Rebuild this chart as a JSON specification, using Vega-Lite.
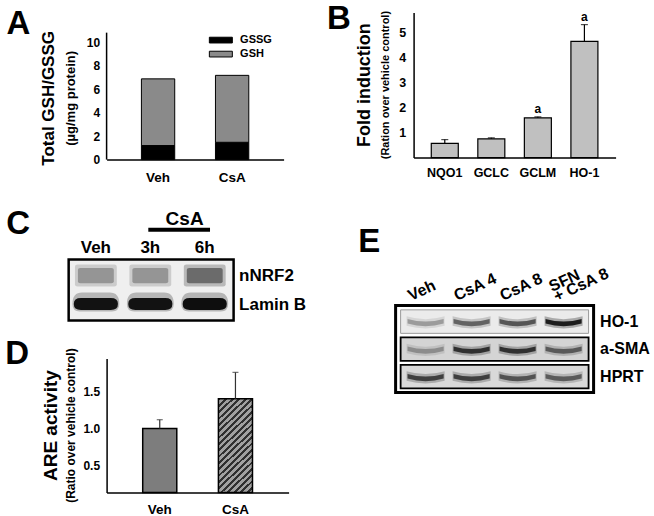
{
  "$schema": "https://vega.github.io/schema/vega-lite/v6.json",
  "background": "white",
  "padding": {"left": 4.6, "top": 1.6, "right": 2, "bottom": 2},
  "spacing": 20,
  "hconcat": [
    {
      "spacing": 15,
      "vconcat": [
        {
          "spacing": 22,
          "vconcat": [
            {
              "title": {"text": "A", "anchor": "start", "frame": "bounds", "fontSize": 33, "dx": -33.7, "dy": 28, "offset": 0},
              "vconcat": [
                {
                  "title": {"text": "Total GSH/GSSG", "subtitle": "(µg/mg protein)", "orient": "left", "anchor": "middle", "frame": "bounds", "fontSize": 17, "subtitleFontSize": 13, "subtitlePadding": 7, "offset": 7},
                  "width": 177,
                  "height": 147,
                  "resolve": {"scale": {"x": "independent"}},
                  "layer": [
                    {
                      "data": {"values": [
                        {"group": "Veh", "component": "GSSG", "value": 1.2},
                        {"group": "Veh", "component": "GSH", "value": 5.7},
                        {"group": "CsA", "component": "GSSG", "value": 1.48},
                        {"group": "CsA", "component": "GSH", "value": 5.72}
                      ]},
                      "mark": {"type": "bar", "stroke": "#000", "strokeWidth": 1},
                      "encoding": {
                        "x": {"field": "group", "type": "nominal", "sort": ["Veh", "CsA"], "scale": {"paddingInner": 0.55, "paddingOuter": 0.47}, "axis": {"title": null, "labelAngle": 0, "labelFontSize": 13.5, "labelPadding": 11}},
                        "y": {"field": "value", "type": "quantitative", "stack": "zero", "scale": {"domain": [0, 12.564], "nice": false}, "axis": {"title": null, "values": [0, 2, 4, 6, 8, 10], "tickCount": 12, "format": "d", "labelFontSize": 12, "labelPadding": 7, "domain": false, "labelOverlap": false, "labelFlush": false}},
                        "fill": {"field": "component", "type": "nominal", "scale": {"domain": ["GSSG", "GSH"], "range": ["#000000", "#8a8a8a"]}, "legend": {"orient": "none", "legendX": 107.75, "legendY": 21, "title": null, "symbolType": "M-2,-0.5H2V0.5H-2Z", "symbolSize": 132, "symbolStrokeColor": "#000", "symbolStrokeWidth": 1, "symbolOpacity": 1, "labelFontSize": 11, "labelFontWeight": "bold", "labelOffset": 12.75, "rowPadding": 2, "padding": 0}},
                        "order": {"field": "component", "sort": "descending"}
                      }
                    },
                    {
                      "data": {"values": [{"line": "y-axis"}]},
                      "mark": {"type": "rule", "stroke": "#000", "strokeWidth": 1.5},
                      "encoding": {
                        "x": {"datum": 0, "type": "quantitative", "scale": {"domain": [0, 1]}, "axis": null},
                        "y": {"datum": 0},
                        "y2": {"datum": 10.85}
                      }
                    }
                  ]
                }
              ]
            },
            {
              "title": {"text": "C", "anchor": "start", "frame": "bounds", "fontSize": 33, "dx": -61.25, "dy": 31, "offset": 0},
              "width": 127,
              "height": 61,
              "resolve": {"scale": {"opacity": "independent"}},
              "layer": [
                {
                  "data": {"values": [{"blot": "C"}]},
                  "mark": {"type": "rect", "fill": "#efefef", "stroke": "#000", "strokeWidth": 2.5},
                  "encoding": {
                    "x": {"datum": 0.5, "type": "quantitative", "scale": {"domain": [1.197, 3.53], "nice": false, "zero": false}, "axis": null},
                    "x2": {"datum": 3.53}
                  }
                },
                {
                  "data": {"values": [
                    {"lane": 1, "rowIdx": 2, "row": "nNRF2", "intensity": 0.36},
                    {"lane": 2, "rowIdx": 2, "row": "nNRF2", "intensity": 0.36},
                    {"lane": 3, "rowIdx": 2, "row": "nNRF2", "intensity": 0.56}
                  ]},
                  "mark": {"type": "point", "shape": "M-0.91,-0.38 Q-0.91,-0.48 -0.8,-0.48 L0.8,-0.48 Q0.91,-0.48 0.91,-0.38 L0.91,0.38 Q0.91,0.48 0.8,0.48 L-0.8,0.48 Q-0.91,0.48 -0.91,0.38 Z", "size": 2116, "filled": true, "color": "#000", "strokeWidth": 0},
                  "encoding": {
                    "x": {"field": "lane", "type": "quantitative"},
                    "y": {"field": "rowIdx", "type": "quantitative", "scale": {"domain": [0.42, 2.56], "nice": false, "zero": false}, "axis": {"orient": "right", "title": null, "values": [1, 2], "tickCount": 12, "labelExpr": "datum.value == 2 ? 'nNRF2' : 'Lamin B'", "domain": false, "labelFontSize": 17, "labelPadding": 5, "labelBaseline": "middle", "labelAlign": "left", "labelFlush": false, "labelOverlap": false, "labelBound": false}},
                    "opacity": {"field": "intensity", "type": "quantitative", "scale": {"domain": [0, 1], "range": [0, 0.4]}, "legend": null}
                  }
                },
                {
                  "data": {"values": [
                    {"lane": 1, "rowIdx": 2, "row": "nNRF2", "intensity": 0.36},
                    {"lane": 2, "rowIdx": 2, "row": "nNRF2", "intensity": 0.36},
                    {"lane": 3, "rowIdx": 2, "row": "nNRF2", "intensity": 0.56}
                  ]},
                  "mark": {"type": "point", "shape": "M-0.78,-0.25 Q-0.78,-0.33 -0.68,-0.33 L0.68,-0.33 Q0.78,-0.33 0.78,-0.25 L0.78,0.25 Q0.78,0.33 0.68,0.33 L-0.68,0.33 Q-0.78,0.33 -0.78,0.25 Z", "size": 2116, "filled": true, "color": "#000", "strokeWidth": 0},
                  "encoding": {
                    "x": {"field": "lane", "type": "quantitative"},
                    "y": {"field": "rowIdx", "type": "quantitative"},
                    "opacity": {"field": "intensity", "type": "quantitative", "scale": {"domain": [0, 1], "range": [0, 0.75]}, "legend": null}
                  }
                },
                {
                  "data": {"values": [
                    {"lane": 1, "rowIdx": 1, "row": "Lamin B", "intensity": 0.95},
                    {"lane": 2, "rowIdx": 1, "row": "Lamin B", "intensity": 0.95},
                    {"lane": 3, "rowIdx": 1, "row": "Lamin B", "intensity": 0.97}
                  ]},
                  "mark": {"type": "point", "shape": "M-1.02,0 Q-1.02,-0.5 -0.6,-0.5 L0.6,-0.5 Q1.02,-0.5 1.02,0 Q1.02,0.32 0.7,0.32 L-0.7,0.32 Q-1.02,0.32 -1.02,0 Z", "size": 2116, "filled": true, "color": "#000", "strokeWidth": 0},
                  "encoding": {
                    "x": {"field": "lane", "type": "quantitative"},
                    "y": {"field": "rowIdx", "type": "quantitative"},
                    "opacity": {"field": "intensity", "type": "quantitative", "scale": {"domain": [0, 1], "range": [0, 0.25]}, "legend": null}
                  }
                },
                {
                  "data": {"values": [
                    {"lane": 1, "rowIdx": 1, "row": "Lamin B", "intensity": 0.95},
                    {"lane": 2, "rowIdx": 1, "row": "Lamin B", "intensity": 0.95},
                    {"lane": 3, "rowIdx": 1, "row": "Lamin B", "intensity": 0.97}
                  ]},
                  "mark": {"type": "point", "shape": "M-0.96,0 Q-0.96,-0.26 -0.65,-0.26 L0.65,-0.26 Q0.96,-0.26 0.96,0 Q0.96,0.26 0.65,0.26 L-0.65,0.26 Q-0.96,0.26 -0.96,0 Z", "size": 2116, "filled": true, "color": "#000", "strokeWidth": 0},
                  "encoding": {
                    "x": {"field": "lane", "type": "quantitative"},
                    "y": {"field": "rowIdx", "type": "quantitative"},
                    "opacity": {"field": "intensity", "type": "quantitative", "scale": {"domain": [0, 1], "range": [0, 0.95]}, "legend": null}
                  }
                },
                {
                  "data": {"values": [{"lane": 1, "label": "Veh"}, {"lane": 2, "label": "3h"}, {"lane": 3, "label": "6h"}]},
                  "mark": {"type": "text", "fontSize": 17, "fontWeight": "bold", "baseline": "alphabetic", "align": "center", "color": "#000"},
                  "encoding": {"x": {"field": "lane", "type": "quantitative"}, "y": {"datum": 2.807}, "text": {"field": "label"}}
                },
                {
                  "data": {"values": [{"group": "CsA"}]},
                  "mark": {"type": "rule", "stroke": "#000", "strokeWidth": 4, "strokeCap": "square"},
                  "encoding": {"x": {"datum": 2}, "x2": {"datum": 3.06}, "y": {"datum": 3.61}}
                },
                {
                  "data": {"values": [{"group": "CsA"}]},
                  "mark": {"type": "text", "fontSize": 19, "fontWeight": "bold", "baseline": "alphabetic", "align": "center", "color": "#000"},
                  "encoding": {"x": {"datum": 2.63}, "y": {"datum": 3.79}, "text": {"field": "group"}}
                }
              ]
            }
          ]
        },
        {
          "title": {"text": "D", "anchor": "start", "frame": "bounds", "fontSize": 33, "dx": -36.7, "dy": 22.5, "offset": 0},
          "vconcat": [
            {
              "title": {"text": "ARE activity", "subtitle": "(Ratio over vehicle control)", "orient": "left", "anchor": "middle", "frame": "group", "fontSize": 19, "subtitleFontSize": 12, "subtitlePadding": 5, "offset": 6},
              "width": 182,
              "height": 134,
              "data": {"values": [
                {"group": "Veh", "mean": 1.0, "upper": 1.12},
                {"group": "CsA", "mean": 1.405, "upper": 1.76}
              ]},
              "encoding": {
                "x": {"field": "group", "type": "nominal", "sort": ["Veh", "CsA"], "scale": {"paddingInner": 0.55, "paddingOuter": 0.477}, "axis": {"title": null, "labelAngle": 0, "labelFontSize": 13.5, "labelPadding": 10}}
              },
              "layer": [
                {
                  "transform": [{"filter": "datum.group == 'Veh'"}],
                  "mark": {"type": "bar", "fill": "#7d7d7d", "stroke": "#000", "strokeWidth": 1.5},
                  "encoding": {
                    "y": {"field": "mean", "type": "quantitative", "scale": {"domain": [0.135, 1.946], "nice": false, "zero": false}, "axis": {"title": null, "values": [0.5, 1, 1.5], "tickCount": 12, "format": ".1f", "labelFontSize": 12, "labelPadding": 7, "labelOverlap": false}},
                    "y2": {"datum": 0.135}
                  }
                },
                {
                  "transform": [{"filter": "datum.group == 'CsA'"}],
                  "mark": {"type": "bar", "stroke": "#000", "strokeWidth": 1.5, "fill": {"gradient": "linear", "x1": 0, "y1": 0, "x2": 0.42, "y2": 1.2, "stops": [
                    {"offset": 0, "color": "#303030"}, {"offset": 0.0225, "color": "#303030"}, {"offset": 0.0225, "color": "#a0a0a0"}, {"offset": 0.05, "color": "#a0a0a0"},
                    {"offset": 0.05, "color": "#303030"}, {"offset": 0.0725, "color": "#303030"}, {"offset": 0.0725, "color": "#a0a0a0"}, {"offset": 0.1, "color": "#a0a0a0"},
                    {"offset": 0.1, "color": "#303030"}, {"offset": 0.1225, "color": "#303030"}, {"offset": 0.1225, "color": "#a0a0a0"}, {"offset": 0.15, "color": "#a0a0a0"},
                    {"offset": 0.15, "color": "#303030"}, {"offset": 0.1725, "color": "#303030"}, {"offset": 0.1725, "color": "#a0a0a0"}, {"offset": 0.2, "color": "#a0a0a0"},
                    {"offset": 0.2, "color": "#303030"}, {"offset": 0.2225, "color": "#303030"}, {"offset": 0.2225, "color": "#a0a0a0"}, {"offset": 0.25, "color": "#a0a0a0"},
                    {"offset": 0.25, "color": "#303030"}, {"offset": 0.2725, "color": "#303030"}, {"offset": 0.2725, "color": "#a0a0a0"}, {"offset": 0.3, "color": "#a0a0a0"},
                    {"offset": 0.3, "color": "#303030"}, {"offset": 0.3225, "color": "#303030"}, {"offset": 0.3225, "color": "#a0a0a0"}, {"offset": 0.35, "color": "#a0a0a0"},
                    {"offset": 0.35, "color": "#303030"}, {"offset": 0.3725, "color": "#303030"}, {"offset": 0.3725, "color": "#a0a0a0"}, {"offset": 0.4, "color": "#a0a0a0"},
                    {"offset": 0.4, "color": "#303030"}, {"offset": 0.4225, "color": "#303030"}, {"offset": 0.4225, "color": "#a0a0a0"}, {"offset": 0.45, "color": "#a0a0a0"},
                    {"offset": 0.45, "color": "#303030"}, {"offset": 0.4725, "color": "#303030"}, {"offset": 0.4725, "color": "#a0a0a0"}, {"offset": 0.5, "color": "#a0a0a0"},
                    {"offset": 0.5, "color": "#303030"}, {"offset": 0.5225, "color": "#303030"}, {"offset": 0.5225, "color": "#a0a0a0"}, {"offset": 0.55, "color": "#a0a0a0"},
                    {"offset": 0.55, "color": "#303030"}, {"offset": 0.5725, "color": "#303030"}, {"offset": 0.5725, "color": "#a0a0a0"}, {"offset": 0.6, "color": "#a0a0a0"},
                    {"offset": 0.6, "color": "#303030"}, {"offset": 0.6225, "color": "#303030"}, {"offset": 0.6225, "color": "#a0a0a0"}, {"offset": 0.65, "color": "#a0a0a0"},
                    {"offset": 0.65, "color": "#303030"}, {"offset": 0.6725, "color": "#303030"}, {"offset": 0.6725, "color": "#a0a0a0"}, {"offset": 0.7, "color": "#a0a0a0"},
                    {"offset": 0.7, "color": "#303030"}, {"offset": 0.7225, "color": "#303030"}, {"offset": 0.7225, "color": "#a0a0a0"}, {"offset": 0.75, "color": "#a0a0a0"},
                    {"offset": 0.75, "color": "#303030"}, {"offset": 0.7725, "color": "#303030"}, {"offset": 0.7725, "color": "#a0a0a0"}, {"offset": 0.8, "color": "#a0a0a0"},
                    {"offset": 0.8, "color": "#303030"}, {"offset": 0.8225, "color": "#303030"}, {"offset": 0.8225, "color": "#a0a0a0"}, {"offset": 0.85, "color": "#a0a0a0"},
                    {"offset": 0.85, "color": "#303030"}, {"offset": 0.8725, "color": "#303030"}, {"offset": 0.8725, "color": "#a0a0a0"}, {"offset": 0.9, "color": "#a0a0a0"},
                    {"offset": 0.9, "color": "#303030"}, {"offset": 0.9225, "color": "#303030"}, {"offset": 0.9225, "color": "#a0a0a0"}, {"offset": 0.95, "color": "#a0a0a0"},
                    {"offset": 0.95, "color": "#303030"}, {"offset": 0.9725, "color": "#303030"}, {"offset": 0.9725, "color": "#a0a0a0"}, {"offset": 1, "color": "#a0a0a0"}
                  ]}},
                  "encoding": {
                    "y": {"field": "mean", "type": "quantitative"},
                    "y2": {"datum": 0.135}
                  }
                },
                {
                  "mark": {"type": "rule", "stroke": "#333", "strokeWidth": 1.2},
                  "encoding": {"y": {"field": "mean", "type": "quantitative"}, "y2": {"field": "upper"}}
                },
                {
                  "mark": {"type": "tick", "color": "#333", "thickness": 1.2},
                  "encoding": {"y": {"field": "upper", "type": "quantitative"}, "size": {"value": 6}}
                }
              ]
            }
          ]
        }
      ]
    },
    {
      "spacing": 47,
      "vconcat": [
        {
          "title": {"text": "B", "anchor": "start", "frame": "bounds", "fontSize": 33, "dx": -28.7, "dy": 25, "offset": 0},
          "vconcat": [
            {
              "title": {"text": "Fold induction", "subtitle": "(Ration over vehicle control)", "orient": "left", "anchor": "middle", "frame": "group", "fontSize": 18, "subtitleFontSize": 11, "subtitlePadding": 6, "offset": 8},
              "width": 202,
              "height": 145,
              "data": {"values": [
                {"gene": "NQO1", "mean": 0.57, "upper": 0.72, "sig": ""},
                {"gene": "GCLC", "mean": 0.75, "upper": 0.79, "sig": ""},
                {"gene": "GCLM", "mean": 1.59, "upper": 1.63, "sig": "a"},
                {"gene": "HO-1", "mean": 4.65, "upper": 5.32, "sig": "a"}
              ]},
              "encoding": {
                "x": {"field": "gene", "type": "nominal", "sort": null, "scale": {"paddingInner": 0.42, "paddingOuter": 0.38}, "axis": {"title": null, "labelAngle": 0, "labelFontSize": 12.5, "labelPadding": 8.5}}
              },
              "layer": [
                {
                  "mark": {"type": "bar", "fill": "#c0c0c0", "stroke": "#000", "strokeWidth": 1.2},
                  "encoding": {"y": {"field": "mean", "type": "quantitative", "scale": {"domain": [0, 5.8], "nice": false}, "axis": {"title": null, "values": [1, 2, 3, 4, 5], "tickCount": 12, "format": "d", "labelFontSize": 12.5, "labelPadding": 8, "labelOverlap": false, "labelFlush": false}}}
                },
                {
                  "mark": {"type": "rule", "stroke": "#000", "strokeWidth": 1.2},
                  "encoding": {"y": {"field": "mean", "type": "quantitative"}, "y2": {"field": "upper"}}
                },
                {
                  "mark": {"type": "tick", "color": "#000", "thickness": 1.2},
                  "encoding": {"y": {"field": "upper", "type": "quantitative"}, "size": {"value": 7}}
                },
                {
                  "mark": {"type": "text", "fontSize": 12, "fontWeight": "bold", "baseline": "alphabetic", "dy": -4, "color": "#000"},
                  "encoding": {"y": {"field": "upper", "type": "quantitative"}, "text": {"field": "sig"}}
                }
              ]
            }
          ]
        },
        {
          "title": {"text": "E", "anchor": "start", "frame": "bounds", "fontSize": 33, "dx": -35.9, "dy": 4, "offset": 0},
          "width": 180,
          "height": 87,
          "resolve": {"scale": {"opacity": "independent"}},
          "layer": [
            {
              "data": {"values": [{"blot": "E"}]},
              "mark": {"type": "rect", "fill": "#ffffff", "stroke": "#000", "strokeWidth": 3},
              "encoding": {
                "x": {"datum": 0.348, "type": "quantitative", "scale": {"domain": [0.739, 4.652], "nice": false, "zero": false}, "axis": {"orient": "top", "title": null, "values": [1, 2, 3, 4], "tickCount": 12, "labelExpr": "datum.value == 1 ? 'Veh' : datum.value == 2 ? 'CsA 4' : datum.value == 3 ? 'CsA 8' : ['SFN', '\u00a0\u00a0\u00a0+ CsA 8']", "domain": false, "labelFontSize": 16, "labelLineHeight": 11, "labelAngle": -25, "labelAlign": "left", "labelBaseline": "alphabetic", "labelOffset": {"condition": {"test": "datum.value == 4", "value": -12}, "value": -15}, "labelPadding": {"condition": {"test": "datum.value == 4", "value": 14}, "value": 5}, "labelFlush": false, "labelOverlap": false, "labelBound": false}},
                "x2": {"datum": 4.652}
              }
            },
            {
              "data": {"values": [{"row": "HO-1"}]},
              "mark": {"type": "rect", "fill": "#ebebeb", "stroke": "#9a9a9a", "strokeWidth": 1},
              "encoding": {
                "x": {"datum": 0.457},
                "x2": {"datum": 4.543},
                "y": {"field": "row", "type": "nominal", "scale": {"domain": ["HO-1", "a-SMA", "HPRT"], "paddingInner": 0.145, "paddingOuter": 0.155}, "axis": {"orient": "right", "title": null, "domain": false, "labelFontSize": 16, "labelPadding": 6, "labelAlign": "left"}}
              }
            },
            {
              "data": {"values": [{"row": "a-SMA"}]},
              "mark": {"type": "rect", "fill": "#d4d4d4", "stroke": "#000", "strokeWidth": 1.8},
              "encoding": {"x": {"datum": 0.457}, "x2": {"datum": 4.543}, "y": {"field": "row", "type": "nominal"}}
            },
            {
              "data": {"values": [{"row": "HPRT"}]},
              "mark": {"type": "rect", "fill": "#d9d9d9", "stroke": "#000", "strokeWidth": 1.8},
              "encoding": {"x": {"datum": 0.457}, "x2": {"datum": 4.543}, "y": {"field": "row", "type": "nominal"}}
            },
            {
              "data": {"values": [
                {"lane": 1, "row": "HO-1", "intensity": 0.3}, {"lane": 2, "row": "HO-1", "intensity": 0.55}, {"lane": 3, "row": "HO-1", "intensity": 0.62}, {"lane": 4, "row": "HO-1", "intensity": 0.92},
                {"lane": 1, "row": "a-SMA", "intensity": 0.3}, {"lane": 2, "row": "a-SMA", "intensity": 0.78}, {"lane": 3, "row": "a-SMA", "intensity": 0.78}, {"lane": 4, "row": "a-SMA", "intensity": 0.55},
                {"lane": 1, "row": "HPRT", "intensity": 0.7}, {"lane": 2, "row": "HPRT", "intensity": 0.7}, {"lane": 3, "row": "HPRT", "intensity": 0.6}, {"lane": 4, "row": "HPRT", "intensity": 0.55}
              ]},
              "mark": {"type": "point", "shape": "M-1,-0.28 Q0,0.02 1,-0.28 L1,0.22 Q0,0.5 -1,0.22 Z", "size": 1444, "filled": true, "color": "#000", "strokeWidth": 0},
              "encoding": {
                "x": {"field": "lane", "type": "quantitative"},
                "y": {"field": "row", "type": "nominal"},
                "opacity": {"field": "intensity", "type": "quantitative", "scale": {"domain": [0, 1], "range": [0, 0.3]}, "legend": null}
              }
            },
            {
              "data": {"values": [
                {"lane": 1, "row": "HO-1", "intensity": 0.3}, {"lane": 2, "row": "HO-1", "intensity": 0.55}, {"lane": 3, "row": "HO-1", "intensity": 0.62}, {"lane": 4, "row": "HO-1", "intensity": 0.92},
                {"lane": 1, "row": "a-SMA", "intensity": 0.3}, {"lane": 2, "row": "a-SMA", "intensity": 0.78}, {"lane": 3, "row": "a-SMA", "intensity": 0.78}, {"lane": 4, "row": "a-SMA", "intensity": 0.55},
                {"lane": 1, "row": "HPRT", "intensity": 0.7}, {"lane": 2, "row": "HPRT", "intensity": 0.7}, {"lane": 3, "row": "HPRT", "intensity": 0.6}, {"lane": 4, "row": "HPRT", "intensity": 0.55}
              ]},
              "mark": {"type": "point", "shape": "M-0.95,-0.14 Q0,0.14 0.95,-0.14 L0.95,0.1 Q0,0.38 -0.95,0.1 Z", "size": 1444, "filled": true, "color": "#000", "strokeWidth": 0},
              "encoding": {
                "x": {"field": "lane", "type": "quantitative"},
                "y": {"field": "row", "type": "nominal"},
                "opacity": {"field": "intensity", "type": "quantitative", "scale": {"domain": [0, 1], "range": [0, 0.9]}, "legend": null}
              }
            }
          ]
        }
      ]
    }
  ],
  "config": {
    "font": "Liberation Sans",
    "view": {"stroke": null},
    "axis": {"grid": false, "ticks": false, "tickSize": 0, "labelColor": "#000", "labelFont": "Liberation Sans", "labelFontWeight": "bold", "domainColor": "#000", "domainWidth": 1.5, "titleColor": "#000"},
    "title": {"color": "#000", "font": "Liberation Sans", "fontWeight": "bold", "subtitleColor": "#000", "subtitleFont": "Liberation Sans", "subtitleFontWeight": "bold"},
    "legend": {"labelColor": "#000", "labelFont": "Liberation Sans"}
  }
}
